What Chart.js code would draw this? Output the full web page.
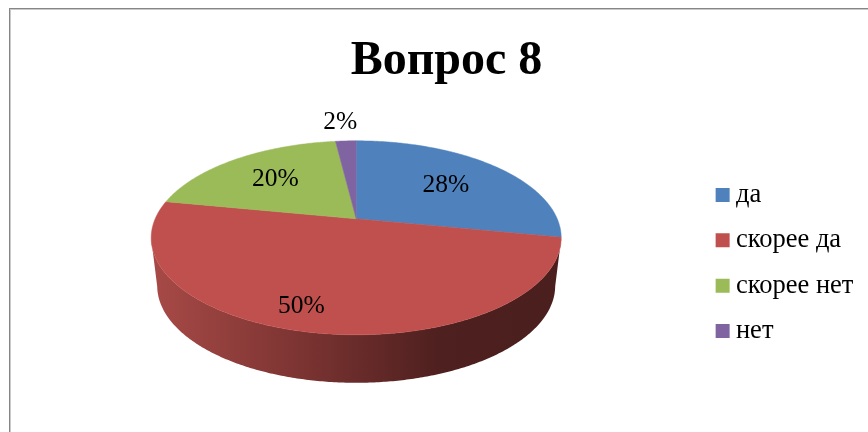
<!DOCTYPE html>
<html>
<head>
<meta charset="utf-8">
<style>html,body{margin:0;padding:0;background:#fff}canvas{display:block}</style>
<script src="https://cdn.jsdelivr.net/npm/chart.js@4/dist/chart.umd.js"></script>
</head>
<body>
<canvas id="c" width="868" height="432"></canvas>
<script>
const chartTitle = "Вопрос 8";
const categories = ["да", "скорее да", "скорее нет", "нет"];
const percentValues = [28, 50, 20, 2];
const sliceColors = ["#4F81BD", "#C0504D", "#9BBB59", "#8064A2"];
const labelReach = [0.65, 0.76, 0.67, 1.25];
const labelNudge = [1, -20, -1, -3];

const SERIF = '"Liberation Serif", "Times New Roman", serif';
const STRETCH = 205 / 97, APEX = 19, DEPTH = 48, LOWER_STRETCH = 199 / 97;

function rimPoint(arc, angle, reach) {
  const r = arc.outerRadius, th = angle + Math.PI / 2;
  const s = Math.sin(th), c = Math.cos(th), a = -APEX;
  const t = a * c + Math.sqrt(a * a * c * c - a * a + r * r);
  return { x: arc.x + STRETCH * s * t * reach, y: arc.y + a - c * t * reach };
}

Chart.ArcElement.prototype.draw = function (ctx) {
  const arc = this.getProps(["x", "y", "startAngle", "endAngle", "outerRadius"], true);
  const color = this.options.backgroundColor;
  const pts = [];
  const n = Math.max(8, Math.ceil((arc.endAngle - arc.startAngle) / 0.01));
  for (let i = 0; i <= n; i++) pts.push(rimPoint(arc, arc.startAngle + (arc.endAngle - arc.startAngle) * i / n, 1));
  const low = pts.filter(p => p.y >= arc.y);
  ctx.save();
  if (low.length > 1) {
    const g = ctx.createLinearGradient(arc.x - 205, 0, arc.x + 205, 0);
    g.addColorStop(0, "#A84A47");
    g.addColorStop(0.36, "#7C3432");
    g.addColorStop(0.7, "#4E201F");
    g.addColorStop(1, "#4A1F1E");
    ctx.fillStyle = g;
    ctx.beginPath();
    low.forEach((p, i) => i ? ctx.lineTo(p.x, p.y) : ctx.moveTo(p.x, p.y));
    for (let i = low.length - 1; i >= 0; i--) {
      const p = low[i];
      ctx.lineTo(arc.x + (p.x - arc.x) * LOWER_STRETCH / STRETCH, p.y + DEPTH);
    }
    ctx.closePath();
    ctx.fill();
  }
  ctx.fillStyle = color;
  ctx.strokeStyle = color;
  ctx.lineWidth = 0.5;
  ctx.beginPath();
  ctx.moveTo(arc.x, arc.y - APEX);
  pts.forEach(p => ctx.lineTo(p.x, p.y));
  ctx.closePath();
  ctx.fill();
  ctx.stroke();
  ctx.restore();
};

const framePlugin = {
  id: "frame",
  afterLayout(chart) {
    chart.titleBlock.left += 10.5;
    chart.titleBlock.right += 10.5;
    const lg = chart.legend;
    lg.left -= 4.6;
    lg.right -= 4.6;
    lg.top += 75;
    lg.bottom += 75;
  },
  beforeDraw(chart) {
    const { ctx, width, height } = chart;
    ctx.save();
    ctx.fillStyle = "#fff";
    ctx.fillRect(0, 0, width, height);
    ctx.fillStyle = "#C9C9C9";
    ctx.fillRect(10, 9, width - 10, 1);
    ctx.fillRect(10, 9, 1, height - 9);
    ctx.fillStyle = "#868686";
    ctx.fillRect(9, 8, width - 9, 1);
    ctx.fillRect(9, 8, 1, height - 8);
    ctx.restore();
  }
};

const labelPlugin = {
  id: "sliceLabels",
  afterDatasetsDraw(chart) {
    const { ctx } = chart;
    ctx.save();
    ctx.font = "25.5px " + SERIF;
    ctx.fillStyle = "#000";
    ctx.textAlign = "center";
    ctx.textBaseline = "middle";
    chart.getDatasetMeta(0).data.forEach((el, i) => {
      const arc = el.getProps(["x", "y", "startAngle", "endAngle", "outerRadius"], true);
      const rim = rimPoint(arc, (arc.startAngle + arc.endAngle) / 2, 1);
      const x = arc.x + (rim.x - arc.x) * labelReach[i] + labelNudge[i];
      const y = arc.y - APEX + (rim.y - arc.y + APEX) * labelReach[i] + 1;
      ctx.fillText(percentValues[i] + "%", x, y);
    });
    ctx.restore();
  }
};

new Chart(document.getElementById("c"), {
  type: "pie",
  data: {
    labels: categories,
    datasets: [{ data: percentValues, backgroundColor: sliceColors, borderWidth: 0 }]
  },
  plugins: [framePlugin, labelPlugin],
  options: {
    responsive: false,
    animation: false,
    radius: 97,
    layout: { padding: { left: 4, right: 0, top: 0, bottom: 56 } },
    plugins: {
      tooltip: { enabled: false },
      title: {
        display: true,
        text: chartTitle,
        color: "#000",
        font: { family: SERIF, size: 48, weight: "bold" },
        padding: { top: 33, bottom: 9 }
      },
      legend: {
        position: "right",
        labels: {
          color: "#000",
          font: { family: SERIF, size: 26.5 },
          usePointStyle: true,
          pointStyle: "rect",
          boxWidth: 0.1,
          boxHeight: 14,
          padding: 18.8
        }
      }
    }
  }
});
</script>
</body>
</html>
